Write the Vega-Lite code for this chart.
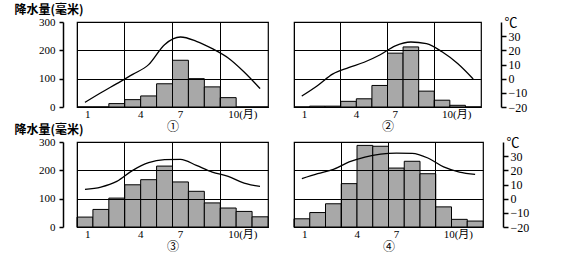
{
  "$schema": "https://vega.github.io/schema/vega-lite/v6.json",
  "background": "white",
  "padding": {"left": 13, "top": 2, "right": 2, "bottom": 0},
  "bounds": "flush",
  "columns": 2,
  "spacing": {"row": 35, "column": 26},
  "config": {
    "view": {"stroke": "black", "strokeWidth": 1.2},
    "axis": {
      "labelFont": "Liberation Serif, Noto Sans CJK SC",
      "labelColor": "black",
      "labelFontSize": 12,
      "titleColor": "black",
      "domainColor": "black",
      "tickColor": "black",
      "gridColor": "black",
      "gridOpacity": 1,
      "gridWidth": 1,
      "labelFlush": false,
      "labelOverlap": false
    },
    "axisX": {"labelFontSize": 11}
  },
  "datasets": {
    "d": [
      {"panel": 1, "month": 1, "precip": 0, "temp": -16.7},
      {"panel": 1, "month": 2, "precip": 0, "temp": -9.9},
      {"panel": 1, "month": 3, "precip": 12, "temp": -3.5},
      {"panel": 1, "month": 4, "precip": 26, "temp": 3},
      {"panel": 1, "month": 5, "precip": 39, "temp": 9.9},
      {"panel": 1, "month": 6, "precip": 82, "temp": 24},
      {"panel": 1, "month": 7, "precip": 165, "temp": 29.4},
      {"panel": 1, "month": 8, "precip": 100, "temp": 26.4},
      {"panel": 1, "month": 9, "precip": 71, "temp": 21.2},
      {"panel": 1, "month": 10, "precip": 33, "temp": 14.6},
      {"panel": 1, "month": 11, "precip": 0, "temp": 4.7},
      {"panel": 1, "month": 12, "precip": 0, "temp": -7},
      {"panel": 2, "month": 1, "precip": 0, "temp": -12.3},
      {"panel": 2, "month": 2, "precip": 3, "temp": -5},
      {"panel": 2, "month": 3, "precip": 3, "temp": 3.4},
      {"panel": 2, "month": 4, "precip": 20, "temp": 7.8},
      {"panel": 2, "month": 5, "precip": 29, "temp": 11.6},
      {"panel": 2, "month": 6, "precip": 76, "temp": 16.7},
      {"panel": 2, "month": 7, "precip": 190, "temp": 23.2},
      {"panel": 2, "month": 8, "precip": 212, "temp": 25.9},
      {"panel": 2, "month": 9, "precip": 56, "temp": 24.7},
      {"panel": 2, "month": 10, "precip": 24, "temp": 19},
      {"panel": 2, "month": 11, "precip": 6, "temp": 10.7},
      {"panel": 2, "month": 12, "precip": 0, "temp": -0.2},
      {"panel": 3, "month": 1, "precip": 35, "temp": 6.6},
      {"panel": 3, "month": 2, "precip": 62, "temp": 8.2},
      {"panel": 3, "month": 3, "precip": 102, "temp": 12.2},
      {"panel": 3, "month": 4, "precip": 149, "temp": 20},
      {"panel": 3, "month": 5, "precip": 167, "temp": 25.4},
      {"panel": 3, "month": 6, "precip": 215, "temp": 27.5},
      {"panel": 3, "month": 7, "precip": 159, "temp": 27.8},
      {"panel": 3, "month": 8, "precip": 126, "temp": 23.5},
      {"panel": 3, "month": 9, "precip": 85, "temp": 18.8},
      {"panel": 3, "month": 10, "precip": 67, "temp": 15.8},
      {"panel": 3, "month": 11, "precip": 55, "temp": 11},
      {"panel": 3, "month": 12, "precip": 36, "temp": 8.7},
      {"panel": 4, "month": 1, "precip": 29, "temp": 14.1},
      {"panel": 4, "month": 2, "precip": 51, "temp": 17.6},
      {"panel": 4, "month": 3, "precip": 82, "temp": 20.7},
      {"panel": 4, "month": 4, "precip": 153, "temp": 25.9},
      {"panel": 4, "month": 5, "precip": 288, "temp": 29.4},
      {"panel": 4, "month": 6, "precip": 285, "temp": 31.5},
      {"panel": 4, "month": 7, "precip": 208, "temp": 32.2},
      {"panel": 4, "month": 8, "precip": 232, "temp": 32},
      {"panel": 4, "month": 9, "precip": 188, "temp": 28.7},
      {"panel": 4, "month": 10, "precip": 71, "temp": 22.4},
      {"panel": 4, "month": 11, "precip": 27, "temp": 18.8},
      {"panel": 4, "month": 12, "precip": 21, "temp": 17.2}
    ]
  },
  "concat": [
    {
      "width": 191, "height": 85,
      "data": {"name": "d"},
      "transform": [{"filter": "datum.panel == 1"}],
      "encoding": {
        "x": {"field": "month", "type": "ordinal",
          "scale": {"type": "band", "paddingInner": 0, "paddingOuter": 0},
          "axis": {"values": [1, 4, 7, 10], "bandPosition": 0, "grid": true, "ticks": false, "domain": false, "labelAngle": 0, "zindex": 1,
            "labelExpr": "datum.value == 10 ? '10(月)' : datum.label",
            "labelAlign": {"condition": {"test": "datum.value == 1 || datum.value == 10", "value": "left"}, "value": "center"},
            "labelOffset": {"condition": {"test": "datum.value == 4", "value": 8}, "value": 0},
            "labelPadding": 1,
            "title": "①", "titleFont": "Noto Sans CJK SC", "titleFontSize": 12, "titleFontWeight": "normal", "titlePadding": 2}}
      },
      "layer": [
        {"mark": {"type": "bar", "fill": "#a8a8a8", "stroke": "black", "strokeWidth": 1},
          "encoding": {"y": {"field": "precip", "type": "quantitative", "scale": {"domain": [0, 300]},
            "axis": {"orient": "left", "offset": 14, "values": [0, 100, 200, 300], "grid": true, "zindex": 1, "tickSize": 4, "tickWidth": 1.5, "domainWidth": 1.5, "labelPadding": 4, "labelFontSize": 11,
              "title": "降水量(毫米)", "titleAngle": 0, "titleAlign": "left", "titleBaseline": "bottom", "titleX": -49, "titleY": -6, "titleFont": "Noto Sans CJK SC", "titleFontSize": 12, "titleFontWeight": "bold"}}}},
        {"mark": {"type": "line", "stroke": "black", "strokeWidth": 1.3, "interpolate": "monotone"},
          "encoding": {"y": {"field": "temp", "type": "quantitative", "scale": {"domain": [-20, 40]}, "axis": null}}}
      ],
      "resolve": {"scale": {"y": "independent"}}
    },
    {
      "width": 187, "height": 85,
      "data": {"name": "d"},
      "transform": [{"filter": "datum.panel == 2"}],
      "encoding": {
        "x": {"field": "month", "type": "ordinal",
          "scale": {"type": "band", "paddingInner": 0, "paddingOuter": 0},
          "axis": {"values": [1, 4, 7, 10], "bandPosition": 0, "grid": true, "ticks": false, "domain": false, "labelAngle": 0, "zindex": 1,
            "labelExpr": "datum.value == 10 ? '10(月)' : datum.label",
            "labelAlign": {"condition": {"test": "datum.value == 1 || datum.value == 10", "value": "left"}, "value": "center"},
            "labelOffset": {"condition": {"test": "datum.value == 4", "value": 8}, "value": 0},
            "labelPadding": 1,
            "title": "②", "titleFont": "Noto Sans CJK SC", "titleFontSize": 12, "titleFontWeight": "normal", "titlePadding": 2}}
      },
      "layer": [
        {"mark": {"type": "bar", "fill": "#a8a8a8", "stroke": "black", "strokeWidth": 1},
          "encoding": {"y": {"field": "precip", "type": "quantitative", "scale": {"domain": [0, 300]},
            "axis": {"orient": "left", "values": [100, 200], "grid": true, "zindex": 1, "labels": false, "ticks": false, "domain": false, "title": null}}}},
        {"mark": {"type": "line", "stroke": "black", "strokeWidth": 1.3, "interpolate": "monotone"},
          "encoding": {"y": {"field": "temp", "type": "quantitative", "scale": {"domain": [-20, 40]},
            "axis": {"orient": "right", "offset": 20, "values": [-20, -10, 0, 10, 20, 30], "grid": false, "tickSize": 5, "tickWidth": 1.5, "domainWidth": 1.5, "labelPadding": 2,
              "title": "℃", "titleAngle": 0, "titleAlign": "left", "titleBaseline": "middle", "titleX": 3, "titleY": 0, "titleFont": "Liberation Serif, Noto Sans CJK SC", "titleFontSize": 13, "titleFontWeight": "normal"}}}}
      ],
      "resolve": {"scale": {"y": "independent"}}
    },
    {
      "width": 191, "height": 85,
      "data": {"name": "d"},
      "transform": [{"filter": "datum.panel == 3"}],
      "encoding": {
        "x": {"field": "month", "type": "ordinal",
          "scale": {"type": "band", "paddingInner": 0, "paddingOuter": 0},
          "axis": {"values": [1, 4, 7, 10], "bandPosition": 0, "grid": true, "ticks": false, "domain": false, "labelAngle": 0, "zindex": 1,
            "labelExpr": "datum.value == 10 ? '10(月)' : datum.label",
            "labelAlign": {"condition": {"test": "datum.value == 1 || datum.value == 10", "value": "left"}, "value": "center"},
            "labelOffset": {"condition": {"test": "datum.value == 4", "value": 8}, "value": 0},
            "labelPadding": 1,
            "title": "③", "titleFont": "Noto Sans CJK SC", "titleFontSize": 12, "titleFontWeight": "normal", "titlePadding": 2}}
      },
      "layer": [
        {"mark": {"type": "bar", "fill": "#a8a8a8", "stroke": "black", "strokeWidth": 1},
          "encoding": {"y": {"field": "precip", "type": "quantitative", "scale": {"domain": [0, 300]},
            "axis": {"orient": "left", "offset": 14, "values": [0, 100, 200, 300], "grid": true, "zindex": 1, "tickSize": 4, "tickWidth": 1.5, "domainWidth": 1.5, "labelPadding": 4, "labelFontSize": 11,
              "title": "降水量(毫米)", "titleAngle": 0, "titleAlign": "left", "titleBaseline": "bottom", "titleX": -49, "titleY": -6, "titleFont": "Noto Sans CJK SC", "titleFontSize": 12, "titleFontWeight": "bold"}}}},
        {"mark": {"type": "line", "stroke": "black", "strokeWidth": 1.3, "interpolate": "monotone"},
          "encoding": {"y": {"field": "temp", "type": "quantitative", "scale": {"domain": [-20, 40]}, "axis": null}}}
      ],
      "resolve": {"scale": {"y": "independent"}}
    },
    {
      "width": 189, "height": 85,
      "data": {"name": "d"},
      "transform": [{"filter": "datum.panel == 4"}],
      "encoding": {
        "x": {"field": "month", "type": "ordinal",
          "scale": {"type": "band", "paddingInner": 0, "paddingOuter": 0},
          "axis": {"values": [1, 4, 7, 10], "bandPosition": 0, "grid": true, "ticks": false, "domain": false, "labelAngle": 0, "zindex": 1,
            "labelExpr": "datum.value == 10 ? '10(月)' : datum.label",
            "labelAlign": {"condition": {"test": "datum.value == 1 || datum.value == 10", "value": "left"}, "value": "center"},
            "labelOffset": {"condition": {"test": "datum.value == 4", "value": 8}, "value": 0},
            "labelPadding": 1,
            "title": "④", "titleFont": "Noto Sans CJK SC", "titleFontSize": 12, "titleFontWeight": "normal", "titlePadding": 2}}
      },
      "layer": [
        {"mark": {"type": "bar", "fill": "#a8a8a8", "stroke": "black", "strokeWidth": 1},
          "encoding": {"y": {"field": "precip", "type": "quantitative", "scale": {"domain": [0, 300]},
            "axis": {"orient": "left", "values": [100, 200], "grid": true, "zindex": 1, "labels": false, "ticks": false, "domain": false, "title": null}}}},
        {"mark": {"type": "line", "stroke": "black", "strokeWidth": 1.3, "interpolate": "monotone"},
          "encoding": {"y": {"field": "temp", "type": "quantitative", "scale": {"domain": [-20, 40]},
            "axis": {"orient": "right", "offset": 20, "values": [-20, -10, 0, 10, 20, 30], "grid": false, "tickSize": 5, "tickWidth": 1.5, "domainWidth": 1.5, "labelPadding": 2,
              "title": "℃", "titleAngle": 0, "titleAlign": "left", "titleBaseline": "middle", "titleX": 3, "titleY": 0, "titleFont": "Liberation Serif, Noto Sans CJK SC", "titleFontSize": 13, "titleFontWeight": "normal"}}}}
      ],
      "resolve": {"scale": {"y": "independent"}}
    }
  ]
}
